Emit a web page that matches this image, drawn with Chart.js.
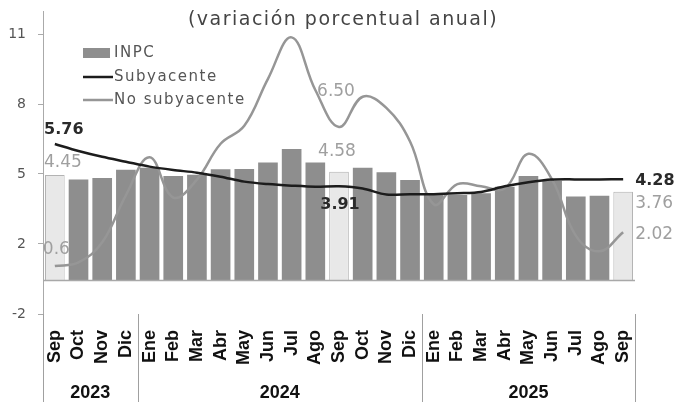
<!DOCTYPE html>
<html>
<head>
<meta charset="utf-8">
<script src="https://cdn.jsdelivr.net/npm/chart.js@4.4.1/dist/chart.umd.min.js"></script>
<style>
    html, body { margin: 0; padding: 0; background: #fff; }
    #inflationChart { display: block; }
</style>
</head>
<body>
<canvas id="inflationChart" width="677" height="402"></canvas>
<script>
// Data (annual % change)
const months = ['Sep', 'Oct', 'Nov', 'Dic',
    'Ene', 'Feb', 'Mar', 'Abr', 'May', 'Jun', 'Jul', 'Ago', 'Sep', 'Oct', 'Nov', 'Dic',
    'Ene', 'Feb', 'Mar', 'Abr', 'May', 'Jun', 'Jul', 'Ago', 'Sep'];
const years = ['2023', '2024', '2025'];
const monthsPerYear = [4, 12, 9];

const inpc = [4.70, 4.51, 4.57, 4.94,
    5.03, 4.66, 4.72, 4.96, 4.97, 5.26, 5.87, 5.26, 4.85, 5.03, 4.83, 4.48,
    3.89, 3.81, 3.89, 4.18, 4.66, 4.45, 3.74, 3.78, 3.96];
const subyacente = [6.09, 5.78, 5.52, 5.30,
    5.08, 4.93, 4.81, 4.63, 4.41, 4.30, 4.23, 4.18, 4.20, 4.10, 3.83, 3.85,
    3.85, 3.89, 3.95, 4.20, 4.38, 4.50, 4.51, 4.51, 4.52];
const noSubyacente = [0.64, 0.80, 1.70, 3.80,
    5.50, 3.70, 4.50, 6.10, 6.90, 9.00, 10.85, 8.50, 6.85, 8.20, 7.70, 6.20,
    3.40, 4.30, 4.20, 4.10, 5.65, 4.50, 2.00, 1.30, 2.15];
const highlighted = [0, 12, 24];   // September bars drawn light

const yTicks = [-1.5, 1.625, 4.75, 7.875, 11];
const yTickLabels = ['-2', '2', '5', '8', '11'];

// dataset indexes: 0 light bars, 1 dark bars, 2 no subyacente, 3 subyacente
const valueLabels = [
    { series: 3, index: 0, text: '5.76', dx: 9, dy: -14, dark: true, align: 'center' },
    { series: 0, index: 0, text: '4.45', dx: 8, dy: -13, dark: false, align: 'center' },
    { series: 2, index: 0, text: '0.60', dx: -12, dy: -16, dark: false, align: 'left', behind: true },
    { series: 2, index: 12, text: '6.50', dx: -3, dy: -35, dark: false, align: 'center' },
    { series: 0, index: 12, text: '4.58', dx: -2, dy: -20, dark: false, align: 'center' },
    { series: 3, index: 12, text: '3.91', dx: 1, dy: 19, dark: true, align: 'center' },
    { series: 3, index: 24, text: '4.28', dx: 12, dy: 2, dark: true, align: 'left' },
    { series: 0, index: 24, text: '3.76', dx: 12, dy: 12, dark: false, align: 'left' },
    { series: 2, index: 24, text: '2.02', dx: 12, dy: 2, dark: false, align: 'left' }
];

const FONT = 'DejaVu Sans';
const BOLD_FONT = 'Liberation Sans';
const BAR_DARK = '#8e8e8e';
const BAR_LIGHT = '#e8e8e8';
const LINE_GREY = '#969696';
const LINE_BLACK = '#1c1c1c';

function drawValueLabels(chart, behind) {
    const ctx = chart.ctx;
    ctx.save();
    ctx.textBaseline = 'middle';
    valueLabels.forEach(l => {
        if (!!l.behind !== behind) return;
        const pt = chart.getDatasetMeta(l.series).data[l.index];
        ctx.font = (l.dark ? 'bold 16px ' : '17px ') + FONT;
        ctx.fillStyle = l.dark ? '#2a2a2a' : '#9f9f9f';
        ctx.textAlign = l.align;
        ctx.fillText(l.text, pt.x + l.dx, pt.y + l.dy);
    });
    ctx.restore();
}

const overlay = {
    id: 'overlay',
    afterDatasetDraw(chart, args) {
        // label partly covered by the dark bars
        if (args.index === 0) drawValueLabels(chart, true);
    },
    afterDatasetsDraw(chart) {
        const { ctx, chartArea, scales: { y } } = chart;
        // zero line
        const y0 = y.getPixelForValue(0);
        ctx.save();
        ctx.strokeStyle = '#a8a8a8';
        ctx.lineWidth = 1.5;
        ctx.beginPath();
        ctx.moveTo(chartArea.left, y0);
        ctx.lineTo(chartArea.right, y0);
        ctx.stroke();
        ctx.restore();
        drawValueLabels(chart, false);
    },
    afterDraw(chart) {
        const { ctx, chartArea, scales: { x } } = chart;
        ctx.save();

        // title
        ctx.fillStyle = '#444';
        ctx.font = '19px ' + FONT;
        ctx.letterSpacing = '1.5px';
        ctx.textAlign = 'center';
        ctx.textBaseline = 'middle';
        ctx.fillText('(variación porcentual anual)', 343, 20);

        // legend
        ctx.font = '15px ' + FONT;
        ctx.textAlign = 'left';
        ctx.fillStyle = BAR_DARK;
        ctx.fillRect(83, 48, 27, 10);
        ctx.lineWidth = 2.5;
        ctx.strokeStyle = LINE_BLACK;
        ctx.beginPath(); ctx.moveTo(83, 77); ctx.lineTo(113, 77); ctx.stroke();
        ctx.strokeStyle = LINE_GREY;
        ctx.beginPath(); ctx.moveTo(83, 100); ctx.lineTo(113, 100); ctx.stroke();
        ctx.fillStyle = '#555';
        ctx.fillText('INPC', 114, 53);
        ctx.fillText('Subyacente', 114, 77);
        ctx.fillText('No subyacente', 114, 100);

        // year separators and labels
        ctx.letterSpacing = '0px';
        ctx.strokeStyle = '#a0a0a0';
        ctx.lineWidth = 1;
        const bottom = chart.height;
        let start = 0;
        const edges = [chartArea.left];
        monthsPerYear.forEach((n, k) => {
            const end = start + n - 1;
            const cx = (x.getPixelForValue(start) + x.getPixelForValue(end)) / 2;
            ctx.font = 'bold 18px ' + BOLD_FONT;
            ctx.fillStyle = '#111';
            ctx.textAlign = 'center';
            ctx.fillText(years[k], cx, 393);
            edges.push(end < months.length - 1
                ? (x.getPixelForValue(end) + x.getPixelForValue(end + 1)) / 2
                : chartArea.right);
            start += n;
        });
        edges.forEach(ex => {
            const px = Math.round(ex) + 0.5;
            ctx.beginPath();
            ctx.moveTo(px, chartArea.bottom);
            ctx.lineTo(px, bottom);
            ctx.stroke();
        });
        ctx.restore();
    }
};

const lightBars = inpc.map((v, i) => highlighted.includes(i) ? v : null);
const darkBars = inpc.map((v, i) => highlighted.includes(i) ? null : v);

const chartCtx = document.getElementById('inflationChart').getContext('2d');
const inflationChart = new Chart(chartCtx, {
    type: 'bar',
    data: {
        labels: months,
        datasets: [{
            type: 'bar',
            label: 'INPC (sep)',
            data: lightBars,
            backgroundColor: BAR_LIGHT,
            borderColor: '#b3b3b3',
            borderWidth: 1,
            grouped: false,
            categoryPercentage: 0.83,
            barPercentage: 1,
            order: 4
        }, {
            type: 'bar',
            label: 'INPC',
            data: darkBars,
            backgroundColor: BAR_DARK,
            borderWidth: 0,
            grouped: false,
            categoryPercentage: 0.83,
            barPercentage: 1,
            order: 3
        }, {
            type: 'line',
            label: 'No subyacente',
            data: noSubyacente,
            borderColor: LINE_GREY,
            borderWidth: 2.5,
            pointRadius: 0,
            tension: 0.4,
            fill: false,
            order: 2
        }, {
            type: 'line',
            label: 'Subyacente',
            data: subyacente,
            borderColor: LINE_BLACK,
            borderWidth: 2.5,
            pointRadius: 0,
            tension: 0.3,
            fill: false,
            order: 1
        }]
    },
    options: {
        responsive: false,
        devicePixelRatio: 1,
        animation: false,
        layout: {
            padding: { top: 11.6, right: 42, left: 0, bottom: 0 }
        },
        plugins: {
            legend: { display: false },
            tooltip: { enabled: false }
        },
        scales: {
            x: {
                grid: { display: false, drawTicks: false },
                border: { display: false },
                ticks: {
                    autoSkip: false,
                    minRotation: 90,
                    maxRotation: 90,
                    padding: 16,
                    color: '#111',
                    font: { family: BOLD_FONT, size: 18, weight: 'bold' }
                },
                afterFit: function(scale) {
                    scale.height = 88;
                }
            },
            y: {
                min: -1.5,
                max: 12,
                afterBuildTicks: function(scale) {
                    scale.ticks = yTicks.map(v => ({ value: v }));
                },
                ticks: {
                    padding: 12,
                    color: '#555',
                    font: { family: FONT, size: 14 },
                    callback: function(value) {
                        return yTickLabels[yTicks.indexOf(value)];
                    }
                },
                grid: { drawOnChartArea: false, tickLength: 5, color: '#aaa' },
                border: { color: '#aaa', width: 1 },
                afterFit: function(scale) {
                    scale.width = 43;
                    scale.paddingTop = 0;
                    scale.paddingBottom = 0;
                }
            }
        }
    },
    plugins: [overlay]
});
</script>
</body>
</html>
